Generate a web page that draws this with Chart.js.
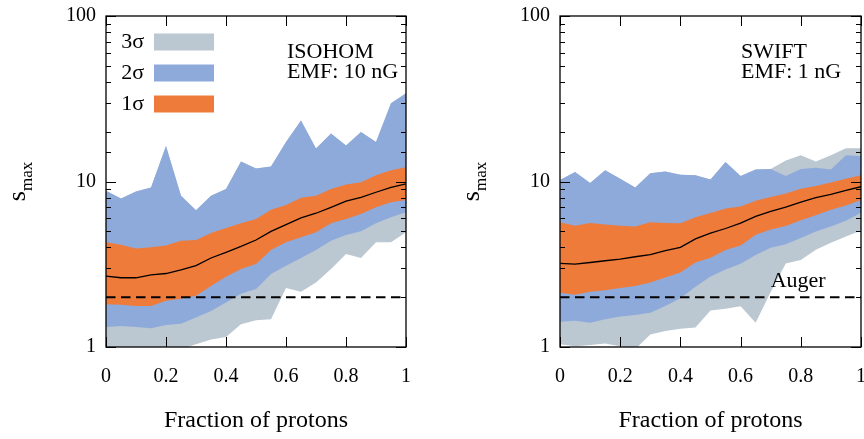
<!DOCTYPE html>
<html>
<head>
<meta charset="utf-8">
<script src="https://cdn.jsdelivr.net/npm/chart.js"></script>
<style>
  body { margin: 0; background: #fff; overflow: hidden; }
  #wrap { position: relative; width: 864px; height: 439px; overflow: hidden; }
  .panel { position: absolute; top: 0; }
</style>
</head>
<body>
<div id="wrap">
  <div class="panel" style="left:0"><canvas id="isohom" width="432" height="439"></canvas></div>
  <div class="panel" style="left:432px"><canvas id="swift" width="440" height="439"></canvas></div>
</div>
<script>
const fraction = [0, 0.05, 0.1, 0.15, 0.2, 0.25, 0.3, 0.35, 0.4, 0.45, 0.5,
                  0.55, 0.6, 0.65, 0.7, 0.75, 0.8, 0.85, 0.9, 0.95, 1];
const augerLevel = 2;
const yTickLabels = [1, 10, 100];

// ISOHOM, EMF 10 nG
const isoMedian = [2.68, 2.62, 2.62, 2.73, 2.78, 2.92, 3.1, 3.45, 3.73, 4.05, 4.43, 5.0, 5.49, 6.03, 6.43, 6.98, 7.6, 8.03, 8.61, 9.23, 9.68];
const iso1Lo = [1.81, 1.80, 1.77, 1.77, 1.90, 1.96, 2.04, 2.34, 2.66, 2.96, 3.17, 3.85, 4.29, 4.60, 4.93, 5.59, 5.94, 6.37, 6.98, 7.49, 7.74];
const iso1Hi = [4.29, 4.15, 3.94, 4.0, 4.1, 4.39, 4.43, 4.89, 5.24, 5.59, 5.94, 6.74, 7.22, 7.97, 8.2, 9.0, 9.6, 9.9, 10.9, 11.7, 12.2];
const iso2Lo = [1.32, 1.34, 1.32, 1.30, 1.36, 1.38, 1.51, 1.65, 1.86, 2.10, 2.24, 2.76, 3.10, 3.45, 3.85, 4.39, 4.75, 5.0, 5.59, 6.08, 6.52];
const iso2Hi = [8.8, 7.9, 8.7, 9.2, 16.4, 8.2, 6.7, 8.2, 9.0, 13.2, 12.0, 12.3, 17.3, 23.4, 15.8, 19.5, 16.5, 19.9, 17.3, 29.7, 34.1];
const iso3Lo = [1, 1, 1, 1, 1, 0.97, 1.04, 1.11, 1.15, 1.37, 1.45, 1.47, 2.27, 2.16, 2.45, 2.96, 3.65, 3.45, 4.29, 4.29, 4.93];
const iso3Hi = [8.8, 7.9, 8.7, 9.2, 16.4, 8.2, 6.7, 8.2, 9.0, 13.2, 12.0, 12.3, 17.3, 23.4, 15.8, 19.5, 16.5, 19.9, 17.3, 29.7, 34.1];

// SWIFT, EMF 1 nG
const swMedian = [3.2, 3.17, 3.24, 3.32, 3.4, 3.51, 3.61, 3.82, 4.0, 4.5, 4.88, 5.2, 5.6, 6.15, 6.6, 7.0, 7.5, 8.0, 8.35, 8.85, 9.3];
const sw1Lo = [2.13, 2.07, 2.16, 2.2, 2.27, 2.34, 2.45, 2.63, 2.82, 3.24, 3.46, 3.85, 4.1, 4.77, 5.13, 5.38, 5.83, 6.25, 6.74, 7.16, 7.74];
const sw1Hi = [5.67, 5.41, 5.62, 5.49, 5.41, 5.34, 5.67, 5.62, 5.59, 6.08, 6.45, 6.88, 7.05, 7.65, 8.05, 8.45, 9.05, 9.4, 9.85, 10.4, 10.9];
const sw2Lo = [1.42, 1.44, 1.40, 1.47, 1.53, 1.56, 1.61, 1.77, 1.97, 2.31, 2.67, 2.94, 3.18, 3.6, 3.98, 4.17, 4.55, 4.99, 5.35, 5.8, 6.48];
const sw2Hi = [10.2, 11.4, 9.8, 11.7, 10.4, 9.2, 11.2, 11.5, 11.0, 10.9, 10.3, 13.1, 10.8, 11.8, 11.9, 10.8, 11.9, 12.1, 11.8, 14.4, 14.2];
const sw3Lo = [1.04, 1.01, 1.03, 1.05, 1.01, 0.97, 1.19, 1.25, 1.29, 1.31, 1.66, 1.70, 1.76, 1.40, 2.15, 3.2, 3.35, 3.87, 4.26, 4.65, 5.05];
const sw3Hi = [10.2, 11.4, 9.8, 11.7, 10.4, 9.2, 11.2, 11.5, 11.0, 10.9, 10.3, 13.1, 10.8, 11.8, 11.9, 13.4, 14.4, 13.2, 14.4, 15.9, 15.9];

const colors = { s3: "#bcc8d1", s2: "#8eaadb", s1: "#ef7b3b" };
const serif = "'Liberation Serif', 'Times New Roman', serif";

Chart.defaults.font.family = serif;
Chart.defaults.color = "#000";

function pts(values) {
    return fraction.map((f, i) => ({ x: f, y: values[i] }));
}

function edge(values, order) {
    return { data: pts(values), borderWidth: 0, pointRadius: 0, fill: false, order: order };
}

function band(values, color, order) {
    return { data: pts(values), borderWidth: 0, pointRadius: 0, fill: "-1", backgroundColor: color, order: order };
}

// frame with inward ticks, legend, labels and the s_max title
const decor = {
    id: "decor",
    afterDatasetsDraw(chart, args, opts) {
        const ctx = chart.ctx;
        const a = chart.chartArea;
        const xs = chart.scales.x, ys = chart.scales.y;
        ctx.save();
        ctx.strokeStyle = "#000";
        ctx.lineWidth = 1.3;
        ctx.strokeRect(a.left, a.top, a.right - a.left, a.bottom - a.top);

        ctx.lineWidth = 1;
        ctx.beginPath();
        ys.ticks.forEach(t => {
            const y = Math.round(ys.getPixelForValue(t.value)) + 0.5;
            const len = yTickLabels.includes(t.value) ? 10 : 5;
            ctx.moveTo(a.left, y); ctx.lineTo(a.left + len, y);
            ctx.moveTo(a.right, y); ctx.lineTo(a.right - len, y);
        });
        xs.ticks.forEach(t => {
            const x = Math.round(xs.getPixelForValue(t.value)) + 0.5;
            ctx.moveTo(x, a.bottom); ctx.lineTo(x, a.bottom - 10);
            ctx.moveTo(x, a.top); ctx.lineTo(x, a.top + 10);
        });
        ctx.stroke();

        ctx.fillStyle = "#000";
        ctx.font = "22px " + serif;
        ctx.textBaseline = "alphabetic";
        ctx.textAlign = "left";
        opts.notes.forEach((line, i) => {
            ctx.fillText(line, a.left + 181, a.top + 42 + i * 20);
        });

        if (opts.legend) {
            opts.legend.forEach((row, i) => {
                const cy = a.top + 26 + i * 31;
                ctx.fillStyle = row.color;
                ctx.fillRect(a.left + 48, cy - 8.5, 60, 17);
                ctx.fillStyle = "#000";
                ctx.textAlign = "right";
                ctx.fillText(row.label, a.left + 38, cy + 5.5);
            });
        }

        if (opts.augerLabel) {
            ctx.textAlign = "left";
            ctx.fillText("Auger", xs.getPixelForValue(0.7), ys.getPixelForValue(augerLevel) - 10);
        }

        // rotated y title: s with subscript max
        ctx.translate(a.left - 81, (a.top + a.bottom) / 2);
        ctx.rotate(-Math.PI / 2);
        ctx.textAlign = "left";
        ctx.font = "26px " + serif;
        const ws = ctx.measureText("s").width;
        ctx.font = "17px " + serif;
        const wm = ctx.measureText("max").width;
        const x0 = -(ws + wm) / 2;
        ctx.font = "26px " + serif;
        ctx.fillText("s", x0, 0);
        ctx.font = "17px " + serif;
        ctx.fillText("max", x0 + ws, 6.5);
        ctx.restore();
    }
};

function makePanel(id, s, yWidth, padRight, decorOpts) {
    return new Chart(id, {
        type: "line",
        data: {
            datasets: [
                { data: pts(s.median), borderColor: "#000", borderWidth: 1.3, pointRadius: 0, fill: false, order: 1 },
                { data: pts(fraction.map(() => augerLevel)), borderColor: "#000", borderWidth: 2,
                  borderDash: [9.5, 5.5], pointRadius: 0, fill: false, order: 0 },
                edge(s.lo1, 3),
                band(s.hi1, colors.s1, 3),
                edge(s.lo2, 4),
                band(s.hi2, colors.s2, 4),
                edge(s.lo3, 5),
                band(s.hi3, colors.s3, 5)
            ]
        },
        options: {
            responsive: false,
            animation: false,
            layout: { padding: { left: 0, right: padRight, top: 16, bottom: 0 } },
            plugins: { legend: { display: false }, tooltip: { enabled: false }, decor: decorOpts },
            scales: {
                x: {
                    type: "linear", min: 0, max: 1,
                    grid: { display: false, drawTicks: false, tickLength: 0 },
                    border: { display: false },
                    ticks: { stepSize: 0.2, padding: 18, font: { size: 20 },
                             callback: v => String(+v.toFixed(1)) },
                    title: { display: true, text: "Fraction of protons", font: { size: 24 }, padding: { top: 0, bottom: 4 } },
                    afterFit(scale) {
                        scale.height = 92;
                        scale.paddingLeft = 0;
                        scale.paddingRight = 0;
                    }
                },
                y: {
                    type: "logarithmic", min: 1, max: 100,
                    grid: { display: false, drawTicks: false, tickLength: 0 },
                    border: { display: false },
                    ticks: {
                        autoSkip: false, padding: 10, font: { size: 20 },
                        callback: v => yTickLabels.includes(v) ? String(v) : ""
                    },
                    afterFit(scale) {
                        scale.width = yWidth;
                        scale.paddingTop = 0;
                        scale.paddingBottom = 0;
                    }
                }
            }
        },
        plugins: [decor]
    });
}

makePanel("isohom",
    { median: isoMedian, lo1: iso1Lo, hi1: iso1Hi, lo2: iso2Lo, hi2: iso2Hi, lo3: iso3Lo, hi3: iso3Hi },
    106, 26,
    {
        notes: ["ISOHOM", "EMF: 10 nG"],
        legend: [
            { label: "3σ", color: colors.s3 },
            { label: "2σ", color: colors.s2 },
            { label: "1σ", color: colors.s1 }
        ],
        augerLabel: false
    });

makePanel("swift",
    { median: swMedian, lo1: sw1Lo, hi1: sw1Hi, lo2: sw2Lo, hi2: sw2Hi, lo3: sw3Lo, hi3: sw3Hi },
    128, 11,
    { notes: ["SWIFT", "EMF: 1 nG"], legend: null, augerLabel: true });
</script>
</body>
</html>
